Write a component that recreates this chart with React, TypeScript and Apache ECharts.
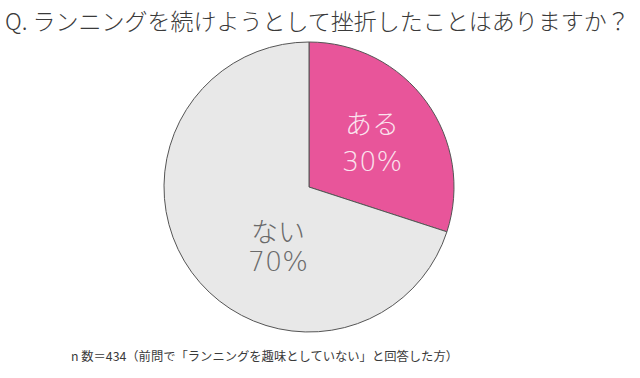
import React, { useEffect, useRef } from "react";
import * as echarts from "echarts";

const categories = ["ある", "ない"];
const values = [30, 70];
const percentLabels = ["30%", "70%"];
const sliceColors = ["#E8559A", "#E8E8E8"];
const labelColors = ["#FBE3EE", "#6A6A6A"];
const labelOffsets = [[2, 0], [30, 16]];
const labelLineHeights = [37, 29];
const titleText = "Q. ランニングを続けようとして挫折したことはありますか？";
const footerText = "n 数＝434（前問で「ランニングを趣味としていない」と回答した方）";

const FONT = "'Noto Sans CJK JP', 'Noto Sans', sans-serif";
const LABEL_FONT = "'DejaVu Sans', 'Noto Sans CJK JP', sans-serif";

export default function App() {
  const ref = useRef<HTMLDivElement>(null);
  useEffect(() => {
    if (!ref.current) return;
    const chart = echarts.init(ref.current, null, { renderer: "svg" });
    chart.setOption({
      animation: false,
      backgroundColor: "#ffffff",
      title: [
        {
          text: titleText,
          left: 0,
          top: 3,
          textStyle: { fontFamily: FONT, fontSize: 23, fontWeight: 300, color: "#3a3a3a" },
        },
        {
          text: footerText,
          left: 66,
          top: 345,
          textStyle: { fontFamily: FONT, fontSize: 12.3, fontWeight: "normal", color: "#3a3a3a" },
        },
      ],
      series: [
        {
          type: "pie",
          center: [309, 187],
          radius: [0, 145],
          startAngle: 90,
          clockwise: true,
          label: {
            show: true,
            position: "inside",
            fontFamily: LABEL_FONT,
            fontSize: 27,
            fontWeight: 200,
            align: "center",
          },
          labelLine: { show: false },
          itemStyle: { borderColor: "#555555", borderWidth: 1 },
          emphasis: { disabled: true },
          data: categories.map((c, i) => ({
            name: c,
            value: values[i],
            itemStyle: { color: sliceColors[i] },
            label: {
              formatter: c + "\n" + percentLabels[i],
              color: labelColors[i],
              offset: labelOffsets[i],
              lineHeight: labelLineHeights[i],
            },
          })),
        },
      ],
    });
    return () => chart.dispose();
  }, []);
  return (
    <div
      ref={ref}
      style={{ position: "fixed", left: 0, top: 0, width: 640, height: 378 }}
    />
  );
}
